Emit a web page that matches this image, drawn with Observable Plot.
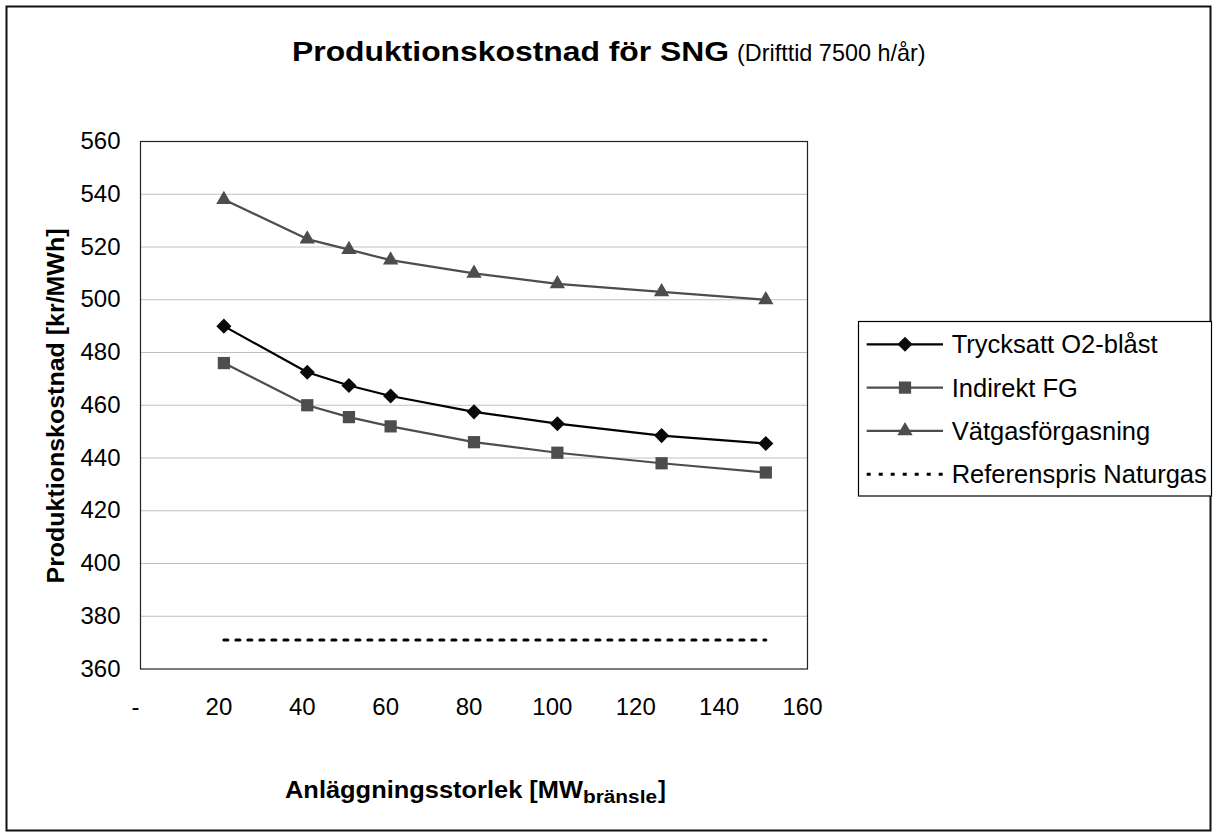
<!DOCTYPE html>
<html>
<head>
<meta charset="utf-8">
<script src="https://cdn.jsdelivr.net/npm/d3@7"></script>
<script src="https://cdn.jsdelivr.net/npm/@observablehq/plot@0.6"></script>
<style>
  html, body { margin: 0; padding: 0; background: #fff; overflow: hidden; }
  #chart { width: 1213px; height: 833px; position: relative; }
  #chart svg { display: block; max-width: none; }
</style>
</head>
<body>
<div id="chart"></div>
<script>
// ---- data ----
const sizes = [20, 40, 50, 60, 80, 100, 125, 150];
const trycksatt = [490, 472.5, 467.5, 463.5, 457.5, 453, 448.5, 445.5];
const indirekt = [476, 460, 455.5, 452, 446, 442, 438, 434.5];
const vatgas = [538, 523, 519, 515, 510, 506, 503, 500];
const referens = [371, 371, 371, 371, 371, 371, 371, 371];
const seriesNames = ["Trycksatt O2-blåst", "Indirekt FG", "Vätgasförgasning", "Referenspris Naturgas"];
const xTicks = [0, 20, 40, 60, 80, 100, 120, 140, 160];
const yTicks = [360, 380, 400, 420, 440, 460, 480, 500, 520, 540, 560];
const titleMain = "Produktionskostnad för SNG";
const titleSub = "(Drifttid 7500 h/år)";
const yLabel = "Produktionskostnad [kr/MWh]";
const xLabelMain = "Anläggningsstorlek [MW";
const xLabelSub = "bränsle";

const FONT = "'Liberation Sans', Arial, Helvetica, sans-serif";

const toRows = (vals, name) => sizes.map((s, i) => ({size: s, value: vals[i], series: name}));
const rowsT = toRows(trycksatt, seriesNames[0]);
const rowsI = toRows(indirekt, seriesNames[1]);
const rowsV = toRows(vatgas, seriesNames[2]);
const rowsR = toRows(referens, seriesNames[3]);

const styles = [
  {rows: rowsT, stroke: "#000000", fill: "#0a0a0a", symbol: d3.symbolDiamond2, r: 6.8},
  {rows: rowsI, stroke: "#4d4d4d", fill: "#4d4d4d", symbol: d3.symbolSquare, r: 6.9},
  {rows: rowsV, stroke: "#4d4d4d", fill: "#4d4d4d", symbol: d3.symbolTriangle, r: 5.7}
];

const marks = [
  Plot.gridY(yTicks.slice(1, -1), {stroke: "#c0c0c0", strokeOpacity: 1, strokeWidth: 1}),
  Plot.frame({stroke: "#222", strokeWidth: 1.2}),
  Plot.line(rowsR, {x: "size", y: "value", stroke: "#000", strokeWidth: 3, strokeDasharray: "4,8"})
];
for (const s of styles) {
  marks.push(Plot.line(s.rows, {x: "size", y: "value", stroke: s.stroke, strokeWidth: 2.2}));
}
for (const s of styles) {
  marks.push(Plot.dot(s.rows, {x: "size", y: "value", symbol: s.symbol, r: s.r, fill: s.fill, stroke: "none"}));
}
marks.push(
  Plot.axisY(yTicks, {anchor: "left", tickSize: 0, tickPadding: 20, fontSize: 24, label: null}),
  Plot.axisX(xTicks, {anchor: "bottom", tickSize: 0, tickPadding: 29, fontSize: 24, dx: -5, label: null,
    tickFormat: d => d === 0 ? "-" : String(d)})
);

const svg = Plot.plot({
  width: 1213,
  height: 833,
  marginTop: 141,
  marginBottom: 164.5,
  marginLeft: 140,
  marginRight: 406,
  style: {fontFamily: FONT, background: "#ffffff", color: "#000"},
  x: {domain: [0, 160]},
  y: {domain: [360, 560]},
  marks
});

const g = d3.select(svg);

// outer chart border
g.append("rect")
  .attr("x", 6.5).attr("y", 6.5).attr("width", 1204).attr("height", 824)
  .attr("fill", "none").attr("stroke", "#111").attr("stroke-width", 2);

function addText(parent, x, y, str, size, bold, extra) {
  const t = parent.append("text")
    .attr("x", x).attr("y", y)
    .attr("text-anchor", "start")
    .attr("font-family", FONT).attr("font-size", size)
    .attr("font-weight", bold ? "bold" : "normal")
    .attr("fill", "#000")
    .text(str);
  if (extra && extra.len) t.attr("textLength", extra.len).attr("lengthAdjust", "spacingAndGlyphs");
  return t;
}

// title
addText(g, 292, 61, titleMain, 27.5, true, {len: 437});
addText(g, 737, 61, titleSub, 23.4, false);

// y axis title
g.append("text")
  .attr("transform", "translate(64,406) rotate(-90)")
  .attr("text-anchor", "middle")
  .attr("font-family", FONT).attr("font-weight", "bold").attr("font-size", 23)
  .attr("textLength", 355).attr("lengthAdjust", "spacingAndGlyphs")
  .attr("fill", "#000")
  .text(yLabel);

// x axis title
addText(g, 285, 797.5, xLabelMain, 23.5, true, {len: 298});
addText(g, 583, 803, xLabelSub, 17.5, true, {len: 74});
addText(g, 658, 797.5, "]", 23.5, true);

// legend
const lg = g.append("g");
lg.append("rect")
  .attr("x", 858.5).attr("y", 321.5).attr("width", 353).attr("height", 174.5)
  .attr("fill", "#fff").attr("stroke", "#000").attr("stroke-width", 1.2);
const legendItems = [
  {name: seriesNames[0], stroke: "#000", fill: "#0a0a0a", symbol: d3.symbolDiamond2, r: 6.8, dash: null, w: 2.2},
  {name: seriesNames[1], stroke: "#4d4d4d", fill: "#4d4d4d", symbol: d3.symbolSquare, r: 6.9, dash: null, w: 2.2},
  {name: seriesNames[2], stroke: "#4d4d4d", fill: "#4d4d4d", symbol: d3.symbolTriangle, r: 5.7, dash: null, w: 2.2},
  {name: seriesNames[3], stroke: "#000", fill: null, symbol: null, r: 0, dash: "4,8", w: 3}
];
legendItems.forEach((it, i) => {
  const cy = 344.3 + i * 43.3;
  lg.append("line")
    .attr("x1", 866.7).attr("x2", 943).attr("y1", cy).attr("y2", cy)
    .attr("stroke", it.stroke).attr("stroke-width", it.w)
    .attr("stroke-dasharray", it.dash);
  if (it.symbol) {
    lg.append("path")
      .attr("transform", `translate(905,${cy})`)
      .attr("d", d3.symbol(it.symbol, Math.PI * it.r * it.r)())
      .attr("fill", it.fill);
  }
  addText(lg, 951.7, cy + 9, it.name, 25.5, false);
});

document.getElementById("chart").appendChild(svg);
</script>
</body>
</html>
